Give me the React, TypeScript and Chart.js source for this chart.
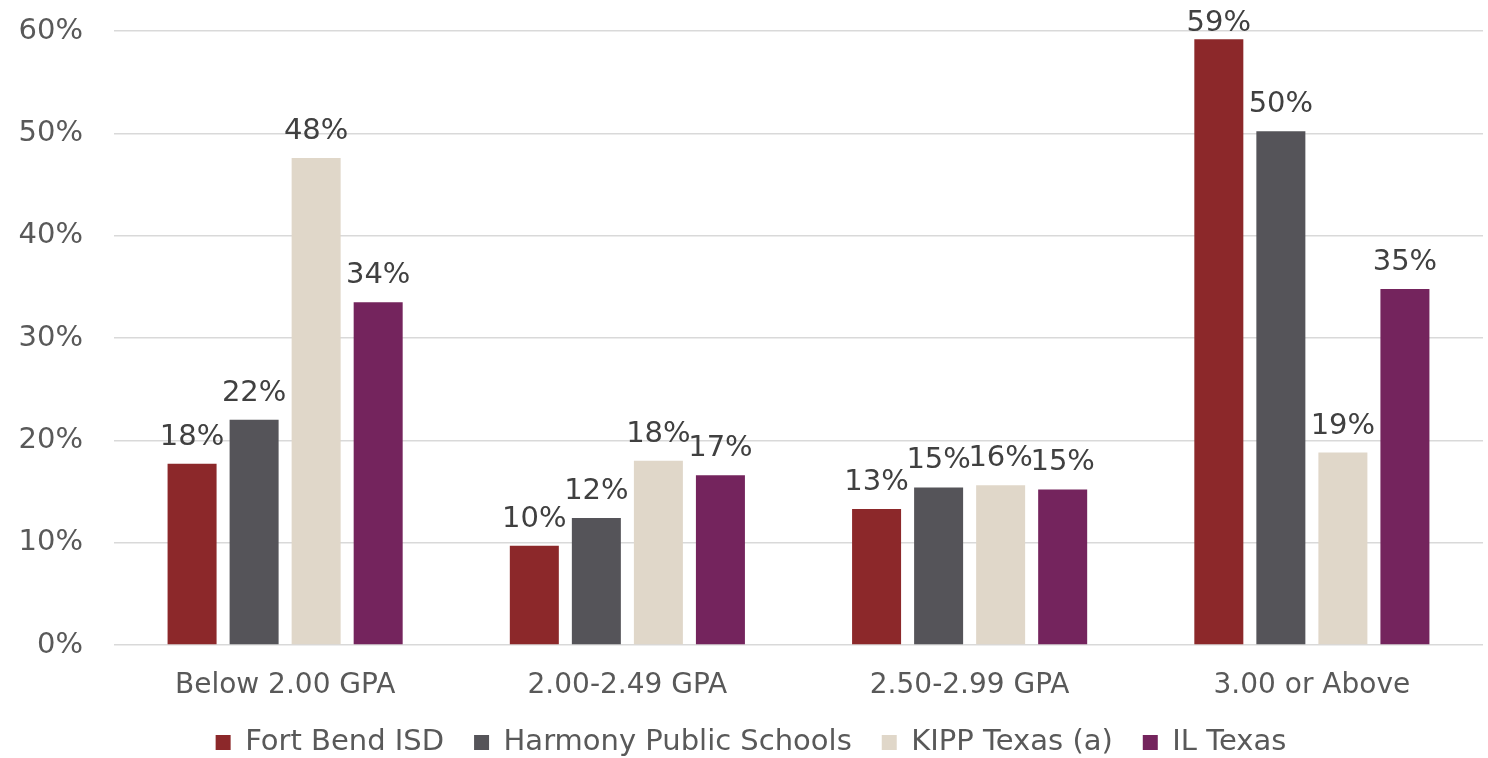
import React, { useEffect, useRef } from "react";
import { Chart, registerables } from "chart.js";

Chart.register(...registerables);

const categories = ["Below 2.00 GPA", "2.00-2.49 GPA", "2.50-2.99 GPA", "3.00 or Above"];
const seriesNames = ["Fort Bend ISD", "Harmony Public Schools", "KIPP Texas (a)", "IL Texas"];
const fortBend = [17.7, 9.7, 13.3, 59.2];
const harmony = [22.0, 12.4, 15.4, 50.2];
const kipp = [47.6, 18.0, 15.6, 18.8];
const ilTexas = [33.5, 16.6, 15.2, 34.8];
const seriesColors = ["#8C282A", "#555459", "#E0D7C9", "#74245D"];
const yTicks = [0, 10, 20, 30, 40, 50, 60];

const FONT = "'DejaVu Sans', sans-serif";

const dataLabelPlugin = {
  id: "dataLabels",
  afterDatasetsDraw(chart: any) {
    const ctx = chart.ctx;
    const top = chart.chartArea.top;
    ctx.save();
    ctx.font = `29px ${FONT}`;
    ctx.fillStyle = "#404040";
    ctx.textAlign = "center";
    ctx.textBaseline = "alphabetic";
    chart.data.datasets.forEach((ds: any, i: number) => {
      const meta = chart.getDatasetMeta(i);
      meta.data.forEach((bar: any, j: number) => {
        const v = ds.data[j];
        const y = Math.max(bar.y - 19, top);
        ctx.fillText(Math.round(v) + "%", bar.x, y);
      });
    });
    ctx.restore();
  },
};

export default function App() {
  const ref = useRef<HTMLCanvasElement>(null);
  useEffect(() => {
    if (!ref.current) return;
    const values = [fortBend, harmony, kipp, ilTexas];
    const chart = new Chart(ref.current, {
      type: "bar",
      data: {
        labels: categories,
        datasets: seriesNames.map((name, i) => ({
          label: name,
          data: values[i],
          backgroundColor: seriesColors[i],
          borderWidth: 0,
          categoryPercentage: 0.725,
          barPercentage: 0.79,
        })),
      },
      options: {
        responsive: false,
        animation: false,
        layout: { padding: { top: 31, right: 5, left: 19, bottom: 0 } },
        plugins: {
          tooltip: { enabled: false },
          legend: {
            position: "bottom",
            labels: {
              boxWidth: 15,
              boxHeight: 15,
              padding: 30,
              color: "#595959",
              font: { family: FONT, size: 29 },
            },
          },
        },
        scales: {
          x: {
            grid: { display: false, drawTicks: false },
            border: { display: false },
            ticks: { color: "#595959", font: { family: FONT, size: 28 }, padding: 24 },
            afterFit: (scale: any) => {
              scale.height = 53;
            },
          },
          y: {
            min: 0,
            max: 60,
            afterBuildTicks: (scale: any) => {
              scale.ticks = yTicks.map((v) => ({ value: v }));
            },
            grid: { color: "#D9D9D9", lineWidth: 1.5, drawTicks: false },
            border: { display: false },
            ticks: {
              color: "#595959",
              font: { family: FONT, size: 29 },
              padding: 31,
              callback: (v: any) => v + "%",
            },
            afterFit: (scale: any) => {
              scale.width = 95;
              scale.paddingTop = 0;
              scale.paddingBottom = 0;
            },
          },
        },
      },
      plugins: [dataLabelPlugin],
    });
    return () => chart.destroy();
  }, []);
  return (
    <div style={{ position: "fixed", left: 0, top: 0, width: 1488, height: 758, overflow: "hidden", background: "#fff" }}>
      <canvas ref={ref} width={1488} height={767} style={{ display: "block" }} />
    </div>
  );
}
